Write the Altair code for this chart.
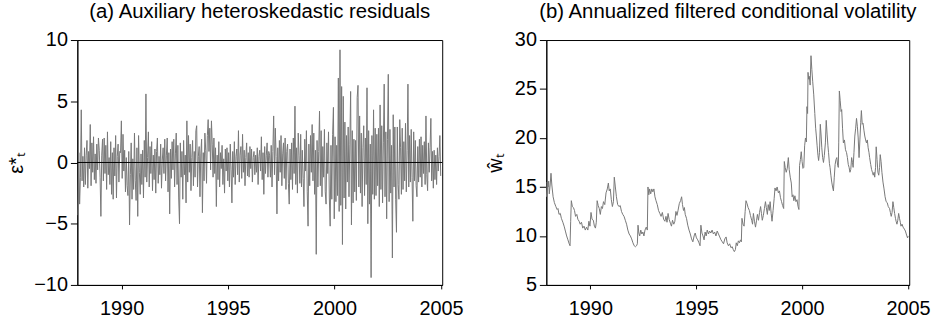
import altair as alt
import pandas as pd

FONT = "Liberation Sans"

# ---- panel (a): auxiliary heteroskedastic residuals (bi-weekly readings) ----
res_start = 1987.95
res_step = 1.0 / 26.0
residuals = [
    # 1988
    -4.3, 0.8, -3.4, -1.2, 4.3, -1.5, 0.5, -2.0, 1.2, -1.8, 0.6, 1.8, -2.1, 0.9, -0.5, 3.1, -1.9, 1.6, -0.8, 2.1, -1.4, 0.7, -1.7, 1.5, -0.6, 2.0,
    # 1989
    1.0, -1.2, -4.4, 0.6, 1.9, -1.5, 2.0, -0.9, 1.4, -2.2, 2.5, -1.0, 0.4, -1.8, 1.7, -2.6, 0.8, -3.0, 1.2, -1.1, 2.2, -2.9, 0.5, 1.5, -1.6, 0.9,
    # 1990
    0.8, 3.4, -1.3, 2.3, -0.7, 1.0, -2.4, 0.4, -1.9, -2.7, 0.9, -5.1, -1.0, 1.6, -3.0, 0.3, -2.2, 2.4, -1.5, -3.1, 1.2, -4.4, 2.2, -0.8, -2.6, 0.7,
    # 1991
    -1.8, 1.0, -2.9, 1.8, -1.2, 5.6, -1.6, 0.4, 2.5, -2.0, 1.3, -0.9, 1.7, -2.3, 0.6, -1.4, 1.1, -2.5, 0.9, 2.0, -1.7, 0.5, -1.0, 1.5, -2.1, 0.2,
    # 1992
    1.2, -0.9, 1.9, -1.5, 0.6, 2.0, -2.4, 0.8, -4.2, 1.1, -1.3, 1.7, -0.6, 1.9, -2.0, 0.7, 2.4, -1.8, 1.4, -2.9, -5.0, 1.6, -1.2, 0.9, -3.0, 1.8,
    # 1993
    -1.0, 0.6, -3.3, 3.4, -1.6, 2.2, -0.8, 1.5, -2.3, 0.4, 1.8, -1.9, 0.9, -1.2, 2.6, 3.0, -2.0, 0.5, 1.3, -2.8, 0.7, 1.9, -4.1, 0.8, -1.5, 2.4,
    # 1994
    1.0, -1.7, 2.2, 3.5, 0.9, 2.8, -0.6, 3.4, 1.5, -1.2, 2.0, -0.9, 1.2, -3.6, 0.6, -1.4, 1.7, -2.0, 0.8, -0.5, 1.4, -1.8, 0.3, -2.5, 1.1, -0.7,
    # 1995
    1.2, -1.5, 0.8, -2.0, 1.5, -0.6, -3.3, 0.9, -1.2, 1.7, -1.8, 0.5, 1.1, -1.0, 2.6, -1.6, 0.6, 1.3, -1.3, 2.3, -0.8, 1.0, -1.9, 0.4, 1.6, -1.1,
    # 1996
    0.8, -1.2, 1.3, -0.5, 1.1, -1.6, 0.4, 0.9, -1.0, 0.6, -0.8, 1.2, -1.8, 0.5, 1.0, -0.7, 2.1, -1.4, 0.8, -2.6, 1.3, -0.9, 0.6, 1.6, -1.2, 0.9,
    # 1997
    0.6, -1.2, 1.4, -2.0, 0.9, 3.8, -1.0, 2.8, 0.5, -4.2, 1.2, -1.5, 1.8, -0.8, 2.2, -1.9, 0.7, 1.6, -1.3, 2.0, -2.2, 0.9, 1.5, -1.7, -3.4, 1.1,
    # 1998
    -1.4, 1.6, -2.2, 2.0, -0.9, 4.6, -1.8, 1.2, -2.5, 2.4, 0.6, -1.7, 2.3, -2.0, 1.0, -1.3, -3.6, 1.9, -0.7, 2.6, -2.4, -5.2, 1.5, -1.9, 2.2, -0.8,
    # 1999
    3.1, -1.5, 2.4, -2.6, 1.0, -7.5, 1.8, -2.0, 0.9, 4.2, -1.9, 2.6, -2.8, 1.3, -1.2, 2.7, -2.4, -3.4, 1.6, -0.9, 2.5, -2.9, -5.2, 1.4, -3.0, 2.3,
    # 2000
    4.5, -4.6, 2.1, -3.2, 1.4, -2.7, 6.9, -4.0, 9.2, -3.5, 6.2, -6.7, 5.4, -2.9, 3.3, -3.8, 2.2, -1.6, 2.9, -2.8, 1.5, 5.8, -5.1, 2.6, -3.3, 1.9,
    # 2001
    -2.4, 1.8, -3.1, 5.3, 6.3, -2.0, 3.8, -2.5, 2.4, -3.6, 1.2, 3.0, -2.7, 2.0, -1.8, 6.1, -5.0, 2.6, -3.4, 1.5, -9.4, 2.2, -2.6, 4.3, -3.0, 2.8,
    # 2002
    -2.7, 2.3, -1.9, 2.8, -3.6, 4.7, -2.2, 3.0, -3.3, 1.6, 6.4, -2.8, 2.5, -4.6, 1.9, 7.2, -3.2, 2.7, -2.5, 1.4, -7.8, 3.9, -2.0, 2.9, -3.0, -5.7,
    # 2003
    2.9, -1.8, -3.0, 3.5, 1.2, -2.6, 2.8, -2.2, 1.7, -1.5, 3.2, -2.4, 1.0, 6.4, -2.0, 2.2, -1.6, 2.7, -1.2, -4.8, 2.5, -1.5, 1.8, -1.9, -2.8, 1.3,
    # 2004
    -1.6, 1.9, -1.2, 2.1, -2.0, 1.4, -0.9, 1.7, -1.8, 3.8, -1.0, -2.3, 1.6, -0.8, 1.2, 3.6, -1.5, 0.9, -2.1, 1.0, -1.4, 0.6, -1.8, 1.2, -0.7, 0.5,
    # 2005
    2.2, -1.1,
]

# ---- panel (b): annualized filtered conditional volatility ----
vol_years = [
    1987.93, 1987.96, 1988.00, 1988.03, 1988.06, 1988.10, 1988.14, 1988.18, 1988.24, 1988.30,
    1988.37, 1988.43, 1988.47, 1988.52, 1988.58, 1988.63, 1988.70, 1988.76, 1988.82, 1988.88,
    1988.94, 1989.00, 1989.04, 1989.07, 1989.10, 1989.15, 1989.20, 1989.25, 1989.30, 1989.36,
    1989.41, 1989.47, 1989.52, 1989.58, 1989.64, 1989.70, 1989.76, 1989.82, 1989.88, 1989.93,
    1989.98, 1990.03, 1990.08, 1990.14, 1990.19, 1990.24, 1990.28, 1990.32, 1990.37, 1990.42,
    1990.47, 1990.52, 1990.57, 1990.62, 1990.68, 1990.74, 1990.80, 1990.85, 1990.89, 1990.94,
    1990.99, 1991.04, 1991.09, 1991.13, 1991.18, 1991.23, 1991.29, 1991.35, 1991.41, 1991.47,
    1991.53, 1991.59, 1991.65, 1991.71, 1991.77, 1991.83, 1991.89, 1991.95, 1992.01, 1992.07,
    1992.13, 1992.18, 1992.22, 1992.25, 1992.29, 1992.33, 1992.38, 1992.43, 1992.48, 1992.53,
    1992.58, 1992.64, 1992.69, 1992.72, 1992.76, 1992.80, 1992.85, 1992.90, 1992.95, 1993.00,
    1993.05, 1993.10, 1993.16, 1993.22, 1993.28, 1993.34, 1993.40, 1993.46, 1993.52, 1993.57,
    1993.62, 1993.67, 1993.72, 1993.78, 1993.83, 1993.88, 1993.94, 1993.99, 1994.04, 1994.09,
    1994.14, 1994.20, 1994.26, 1994.31, 1994.35, 1994.40, 1994.44, 1994.48, 1994.54, 1994.60,
    1994.66, 1994.72, 1994.78, 1994.84, 1994.90, 1994.95, 1995.01, 1995.07, 1995.13, 1995.18,
    1995.22, 1995.27, 1995.32, 1995.37, 1995.42, 1995.47, 1995.52, 1995.58, 1995.63, 1995.69,
    1995.75, 1995.81, 1995.87, 1995.93, 1995.99, 1996.05, 1996.11, 1996.17, 1996.23, 1996.29,
    1996.35, 1996.41, 1996.46, 1996.52, 1996.58, 1996.64, 1996.70, 1996.75, 1996.80, 1996.85,
    1996.89, 1996.94, 1996.99, 1997.04, 1997.09, 1997.13, 1997.16, 1997.21, 1997.26, 1997.31,
    1997.35, 1997.40, 1997.45, 1997.51, 1997.56, 1997.62, 1997.66, 1997.70, 1997.75, 1997.80,
    1997.85, 1997.89, 1997.94, 1997.99, 1998.04, 1998.08, 1998.12, 1998.17, 1998.22, 1998.27,
    1998.31, 1998.36, 1998.40, 1998.45, 1998.49, 1998.54, 1998.58, 1998.63, 1998.68, 1998.72,
    1998.77, 1998.82, 1998.88, 1998.93, 1998.98, 1999.03, 1999.08, 1999.13, 1999.16, 1999.20,
    1999.25, 1999.30, 1999.35, 1999.39, 1999.44, 1999.49, 1999.53, 1999.57, 1999.61, 1999.66,
    1999.71, 1999.76, 1999.81, 1999.85, 1999.88, 1999.92, 1999.96, 2000.00, 2000.04, 2000.08,
    2000.12, 2000.16, 2000.20, 2000.23, 2000.26, 2000.28, 2000.31, 2000.34, 2000.38, 2000.42,
    2000.46, 2000.50, 2000.55, 2000.60, 2000.64, 2000.67, 2000.71, 2000.75, 2000.78, 2000.82,
    2000.86, 2000.90, 2000.93, 2000.97, 2001.01, 2001.05, 2001.10, 2001.14, 2001.18, 2001.22,
    2001.25, 2001.29, 2001.32, 2001.36, 2001.40, 2001.44, 2001.48, 2001.52, 2001.56, 2001.60,
    2001.64, 2001.68, 2001.71, 2001.73, 2001.76, 2001.80, 2001.84, 2001.87, 2001.91, 2001.95,
    2002.00, 2002.05, 2002.10, 2002.14, 2002.18, 2002.22, 2002.26, 2002.30, 2002.34, 2002.38,
    2002.41, 2002.45, 2002.49, 2002.53, 2002.57, 2002.61, 2002.65, 2002.69, 2002.73, 2002.77,
    2002.80, 2002.84, 2002.88, 2002.92, 2002.96, 2003.00, 2003.04, 2003.08, 2003.12, 2003.16,
    2003.19, 2003.24, 2003.28, 2003.32, 2003.36, 2003.40, 2003.43, 2003.47, 2003.50, 2003.54,
    2003.58, 2003.62, 2003.66, 2003.69, 2003.73, 2003.77, 2003.82, 2003.87, 2003.92, 2003.97,
    2004.02, 2004.07, 2004.13, 2004.17, 2004.21, 2004.25, 2004.29, 2004.33, 2004.37, 2004.41,
    2004.44, 2004.48, 2004.52, 2004.56, 2004.60, 2004.64, 2004.67, 2004.72, 2004.77, 2004.83,
    2004.88, 2004.92, 2004.95, 2004.98, 2005.01,
]
vol_values = [
    14.0, 15.5, 15.0, 15.6, 14.3, 15.2, 16.4, 15.2, 14.0, 13.4,
    13.0, 12.7, 12.8, 12.2, 12.3, 11.8, 11.4, 11.0, 10.5, 10.0,
    9.6, 9.2, 9.0, 11.5, 13.6, 13.0, 12.9, 12.6, 12.0, 12.2,
    11.7, 11.5, 11.2, 11.4, 10.8, 11.0, 10.6, 10.9, 10.6, 11.5,
    11.0, 12.4, 11.7, 11.6, 11.0, 10.8, 11.4, 13.6, 13.1, 12.8,
    12.2, 13.0, 12.8, 13.5, 13.2, 14.4, 14.8, 15.4, 14.6, 14.8,
    13.7, 13.0, 13.5, 16.0, 15.0, 14.0, 13.2, 13.0, 13.1, 12.5,
    12.2, 12.0, 11.6, 11.2, 10.6, 10.2, 10.0, 9.7, 9.3, 9.0,
    8.9, 9.0, 9.2, 11.1, 10.3, 10.0, 10.6, 10.2, 10.4, 10.0,
    10.6, 10.9, 10.6, 15.0, 14.2, 14.8, 14.3, 14.8, 14.5, 14.8,
    14.0, 13.6, 13.2, 12.6, 12.3, 12.0, 12.4, 11.7, 11.5, 12.0,
    11.4, 12.3, 11.7, 11.3, 11.0, 11.6, 11.2, 11.5, 12.5, 12.1,
    12.6, 13.3, 13.6, 14.0, 13.2, 12.6, 12.9, 12.2, 11.8, 11.1,
    10.6, 10.2, 9.7, 9.4, 10.0, 10.3, 9.8, 9.6, 9.3, 9.0,
    11.1, 10.3, 10.0, 9.6, 10.4, 10.0, 10.6, 10.2, 10.5, 10.3,
    10.6, 10.2, 10.4, 10.0, 10.5, 10.2, 9.9, 9.6, 9.4, 9.2,
    9.7, 9.9, 9.3, 9.0, 9.2, 8.8, 8.9, 8.6, 8.4, 8.6,
    9.3, 9.0, 9.5, 9.3, 9.6, 9.4, 11.8, 11.2, 11.0, 12.5,
    13.6, 13.3, 12.9, 12.6, 12.1, 11.6, 11.2, 12.3, 11.5, 10.9,
    11.6, 12.2, 11.6, 12.4, 13.0, 12.3, 11.6, 12.1, 12.8, 13.5,
    12.9, 12.2, 13.2, 12.6, 13.5, 12.3, 11.5, 12.6, 13.8, 14.9,
    14.6, 15.0, 14.4, 14.6, 13.9, 13.5, 13.1, 12.8, 17.6, 17.0,
    16.5, 16.9, 18.0, 16.8, 16.0, 15.4, 14.0, 14.2, 13.6, 14.1,
    13.5, 13.7, 13.0, 12.7, 17.2, 17.8, 18.6, 17.6, 16.9, 17.0,
    19.2, 20.0, 19.6, 23.2, 22.5, 26.7, 26.0, 26.3, 25.4, 28.4,
    27.0, 25.8, 24.4, 22.5, 21.0, 20.3, 19.2, 18.2, 17.7, 18.5,
    21.4, 20.2, 19.0, 18.0, 17.5, 18.2, 19.5, 21.8, 20.4, 19.2,
    18.5, 17.4, 17.0, 16.2, 15.5, 15.0, 14.6, 16.0, 17.3, 17.8,
    18.0, 17.2, 17.0, 19.5, 24.8, 23.8, 22.7, 22.9, 21.0, 19.5,
    19.8, 18.8, 18.5, 18.0, 17.3, 17.0, 16.5, 16.8, 18.0, 17.5,
    17.0, 18.5, 20.2, 21.0, 22.0, 21.2, 20.0, 18.0, 19.8, 21.6,
    22.8, 21.4, 21.5, 20.8, 20.2, 19.8, 19.5, 19.8, 19.0, 18.5,
    18.0, 17.3, 16.8, 16.5, 16.2, 16.5, 16.0, 17.0, 19.1, 17.8,
    16.5, 16.2, 17.0, 18.3, 17.6, 16.5, 15.5, 14.8, 14.0, 13.5,
    13.4, 13.0, 12.8, 12.4, 12.0, 12.4, 13.5, 12.9, 12.3, 11.8,
    11.5, 11.2, 11.6, 12.3, 11.8, 11.4, 11.0, 11.2, 10.9, 10.7,
    10.5, 10.2, 10.0, 9.8, 10.0,
]

x_ticks = [1990, 1995, 2000, 2005]
x_domain = [1987.92, 2005.06]
eps_ticks = [-10, -5, 0, 5, 10]
w_ticks = [5, 10, 15, 20, 25, 30]
titles = ["(a) Auxiliary heteroskedastic residuals",
          "(b) Annualized filtered conditional volatility"]

res_df = pd.DataFrame({
    "year": [res_start + i * res_step for i in range(len(residuals))],
    "eps": residuals,
})
vol_df = pd.DataFrame({"year": vol_years, "w": vol_values})
zero_df = pd.DataFrame({"y": [0]})

LINE = "#777777"


def x_enc():
    return alt.X(
        "year:Q",
        scale=alt.Scale(domain=x_domain, nice=False, zero=False),
        axis=alt.Axis(values=x_ticks, format="d", title=None, tickSize=4,
                      labelPadding=10),
    )


def ttl(text):
    return alt.TitleParams(text=text, fontSize=20.5, fontWeight="normal",
                           font=FONT, color="black", anchor="middle", offset=8)


left_line = alt.Chart(res_df).mark_line(color=LINE, strokeWidth=1).encode(
    x=x_enc(),
    y=alt.Y("eps:Q", scale=alt.Scale(domain=[-10, 10], nice=False),
            axis=alt.Axis(values=eps_ticks, title="ε*ₜ", tickSize=7,
                          labelPadding=3, titlePadding=7)),
)
zero_rule = alt.Chart(zero_df).mark_rule(color="black", strokeWidth=1).encode(
    y="y:Q"
)
left = alt.layer(left_line, zero_rule).properties(
    width=368, height=247, title=ttl(titles[0])
)

right = alt.Chart(vol_df).mark_line(color=LINE, strokeWidth=1).encode(
    x=x_enc(),
    y=alt.Y("w:Q", scale=alt.Scale(domain=[5, 30], nice=False, zero=False),
            axis=alt.Axis(values=w_ticks, title="ŵₜ", tickSize=7,
                          labelPadding=3, titlePadding=9)),
).properties(width=366, height=247, title=ttl(titles[1]))

chart = alt.hconcat(left, right, spacing=21).properties(
    padding={"left": 6, "top": 0, "right": 5, "bottom": 0},
    background="white",
).configure_view(
    stroke="black", strokeWidth=1
).configure_axis(
    grid=False,
    domainColor="black",
    tickColor="black",
    labelFont=FONT,
    labelFontSize=20,
    labelColor="black",
    titleFont=FONT,
    titleFontSize=20,
    titleFontWeight="normal",
    titleColor="black",
)

chart.save("out.html", embed_options={"renderer": "svg", "actions": False})
